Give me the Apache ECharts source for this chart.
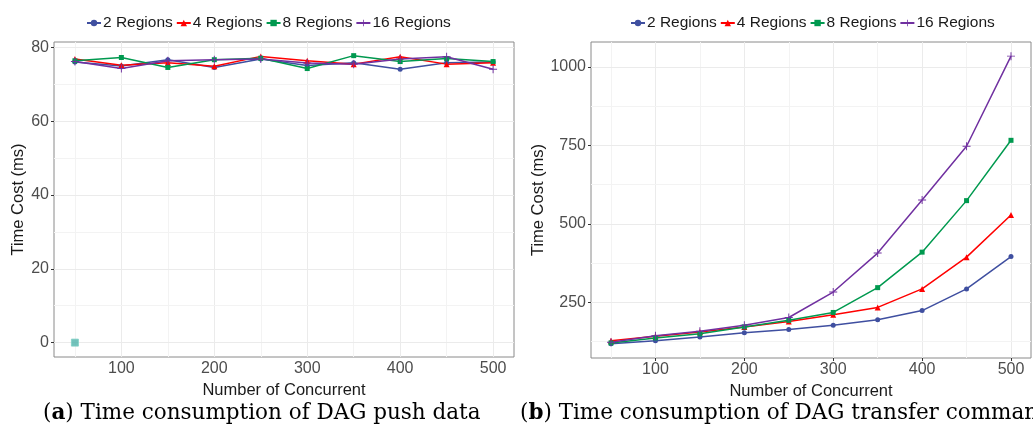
<!DOCTYPE html>
<html>
<head>
<meta charset="utf-8">
<script src="https://cdn.jsdelivr.net/npm/echarts@6/dist/echarts.min.js"></script>
<style>html,body{margin:0;padding:0;background:#fff;}#c{width:1033px;height:430px;}</style>
</head>
<body>
<div id="c"></div>
<script>
// ---------- data ----------
var concurrency = [50, 100, 150, 200, 250, 300, 350, 400, 450, 500];
var seriesNames = ['2 Regions', '4 Regions', '8 Regions', '16 Regions'];

// (a) push data
var pushR2  = [76.1, 75.0, 76.7, 74.6, 76.9, 75.1, 75.9, 74.1, 75.9, 76.1];
var pushR4  = [76.9, 75.2, 75.9, 74.9, 77.6, 76.4, 75.5, 77.5, 75.5, 75.9];
var pushR8  = [76.4, 77.3, 74.6, 76.7, 77.1, 74.3, 77.8, 76.2, 77.0, 76.2];
var pushR16 = [76.2, 74.3, 76.4, 76.7, 76.9, 75.8, 75.5, 76.9, 77.5, 74.1];
var pushOutlier = [[50, 0]];

// (b) transfer command
var cmdR2  = [118, 128, 140, 153, 164, 177, 195, 224, 293, 396];
var cmdR4  = [128, 142, 156, 172, 189, 211, 234, 293, 394, 528];
var cmdR8  = [121, 137, 150, 172, 193, 218, 297, 410, 574, 766];
var cmdR16 = [123, 144, 158, 177, 202, 283, 407, 576, 747, 1034];

// ticks / grid
var xTicks = [100, 200, 300, 400, 500];
var xMinor = [50, 150, 250, 350, 450];
var yTicksA = [0, 20, 40, 60, 80];
var yMinorA = [10, 30, 50, 70];
var yTicksB = [250, 500, 750, 1000];
var yMinorB = [125, 375, 625, 875];

// ---------- styling ----------
var colors = ['#3F4FA0', '#FF0000', '#00994F', '#7030A0'];
var plusPath = 'path://M4.4,0 L5.6,0 L5.6,4.4 L10,4.4 L10,5.6 L5.6,5.6 L5.6,10 L4.4,10 L4.4,5.6 L0,5.6 L0,4.4 L4.4,4.4 Z';
var symbols = ['circle', 'triangle', 'rect', plusPath];
var symbolSizes = [5, 6, 5, 8];

function pairs(vals) { return concurrency.map(function (x, i) { return [x, vals[i]]; }); }

function gridLines(xIdx, yIdx, yMaj, yMin) {
  var d = [];
  xTicks.forEach(function (v) { d.push({ xAxis: v, lineStyle: { color: '#ebebeb', width: 1 } }); });
  xMinor.forEach(function (v) { d.push({ xAxis: v, lineStyle: { color: '#f3f3f3', width: 1 } }); });
  yMaj.forEach(function (v) { d.push({ yAxis: v, lineStyle: { color: '#ebebeb', width: 1 } }); });
  yMin.forEach(function (v) { d.push({ yAxis: v, lineStyle: { color: '#f3f3f3', width: 1 } }); });
  return {
    name: 'grid' + xIdx, type: 'line', xAxisIndex: xIdx, yAxisIndex: yIdx, data: [],
    silent: true, z: 1,
    markLine: { silent: true, z: 1, symbol: ['none', 'none'], label: { show: false },
      lineStyle: { type: 'solid' }, emphasis: { disabled: true }, data: d }
  };
}

function dataSeries(idx, vals, axisIdx) {
  return {
    name: seriesNames[idx], type: 'line', xAxisIndex: axisIdx, yAxisIndex: axisIdx,
    data: pairs(vals), symbol: symbols[idx], symbolSize: symbolSizes[idx], showSymbol: true,
    z: 3, color: colors[idx], lineStyle: { width: 1.5, color: colors[idx] },
    itemStyle: { color: colors[idx] }, emphasis: { disabled: true }, animation: false
  };
}

var labelStyle = { color: '#4d4d4d', fontSize: 16, fontFamily: 'Liberation Sans, Arial, sans-serif' };
var nameStyle = { color: '#1a1a1a', fontSize: 16.5, fontFamily: 'Liberation Sans, Arial, sans-serif' };

function xAxis(gi) {
  return {
    type: 'value', gridIndex: gi, min: 27.5, max: 522.5,
    name: 'Number of Concurrent', nameLocation: 'middle', nameGap: 19, nameTextStyle: nameStyle,
    axisLine: { show: false }, splitLine: { show: false },
    axisTick: { show: true, length: 3, customValues: xTicks, lineStyle: { color: '#333' } },
    axisLabel: Object.assign({ customValues: xTicks, margin: 4 }, labelStyle)
  };
}
function yAxis(gi, min, max, ticks) {
  return {
    type: 'value', gridIndex: gi, min: min, max: max,
    name: 'Time Cost (ms)', nameLocation: 'middle', nameGap: gi === 0 ? 22 : 35, nameTextStyle: nameStyle,
    axisLine: { show: false }, splitLine: { show: false },
    axisTick: { show: true, length: 3, customValues: ticks, lineStyle: { color: '#333' } },
    axisLabel: Object.assign({ customValues: ticks, margin: 5, formatter: function (v) { return String(v); } }, labelStyle)
  };
}

var legendBase = {
  data: seriesNames, top: 10, itemWidth: 14, itemHeight: 8, itemGap: 3,
  textStyle: { color: '#1a1a1a', fontSize: 15.5, fontFamily: 'Liberation Sans, Arial, sans-serif', padding: [0, 0, 0, -3] },
  selectedMode: false
};

var capRich = { b: { fontWeight: 'bold', fontSize: 21.5, fontFamily: 'DejaVu Serif', fill: '#000' }, n: { fontSize: 21.5, fontFamily: 'DejaVu Serif', fill: '#000' } };

var chart = echarts.init(document.getElementById('c'), null, { renderer: 'canvas' });
var option = {
  animation: false,
  backgroundColor: '#fff',
  grid: [
    { left: 54, top: 42, width: 460, height: 315, show: true, borderColor: '#8a8a8a', borderWidth: 1, backgroundColor: 'transparent' },
    { left: 591, top: 42, width: 440, height: 316, show: true, borderColor: '#8a8a8a', borderWidth: 1, backgroundColor: 'transparent' }
  ],
  legend: [
    Object.assign({ left: 81 }, legendBase),
    Object.assign({ left: 625 }, legendBase)
  ],
  xAxis: [xAxis(0), xAxis(1)],
  yAxis: [yAxis(0, -3.9, 81.5, yTicksA), yAxis(1, 73, 1079, yTicksB)],
  series: [
    gridLines(0, 0, yTicksA, yMinorA),
    gridLines(1, 1, yTicksB, yMinorB),
    dataSeries(0, pushR2, 0), dataSeries(1, pushR4, 0), dataSeries(2, pushR8, 0), dataSeries(3, pushR16, 0),
    { name: 'outlier', type: 'scatter', xAxisIndex: 0, yAxisIndex: 0, data: pushOutlier, symbol: 'rect', symbolSize: 7,
      z: 3, itemStyle: { color: '#4fb3aa', borderColor: '#7fcfc6', borderWidth: 1 }, silent: true },
    dataSeries(0, cmdR2, 1), dataSeries(1, cmdR4, 1), dataSeries(2, cmdR8, 1), dataSeries(3, cmdR16, 1)
  ],
  graphic: [
    { type: 'text', left: 43, top: 402, style: { rich: capRich, text: '{n|(}{b|a}{n|) Time consumption of DAG push data}' } },
    { type: 'text', left: 520, top: 402, style: { rich: capRich, text: '{n|(}{b|b}{n|) Time consumption of DAG transfer command}' } }
  ]
};
chart.setOption(option);
</script>
</body>
</html>
